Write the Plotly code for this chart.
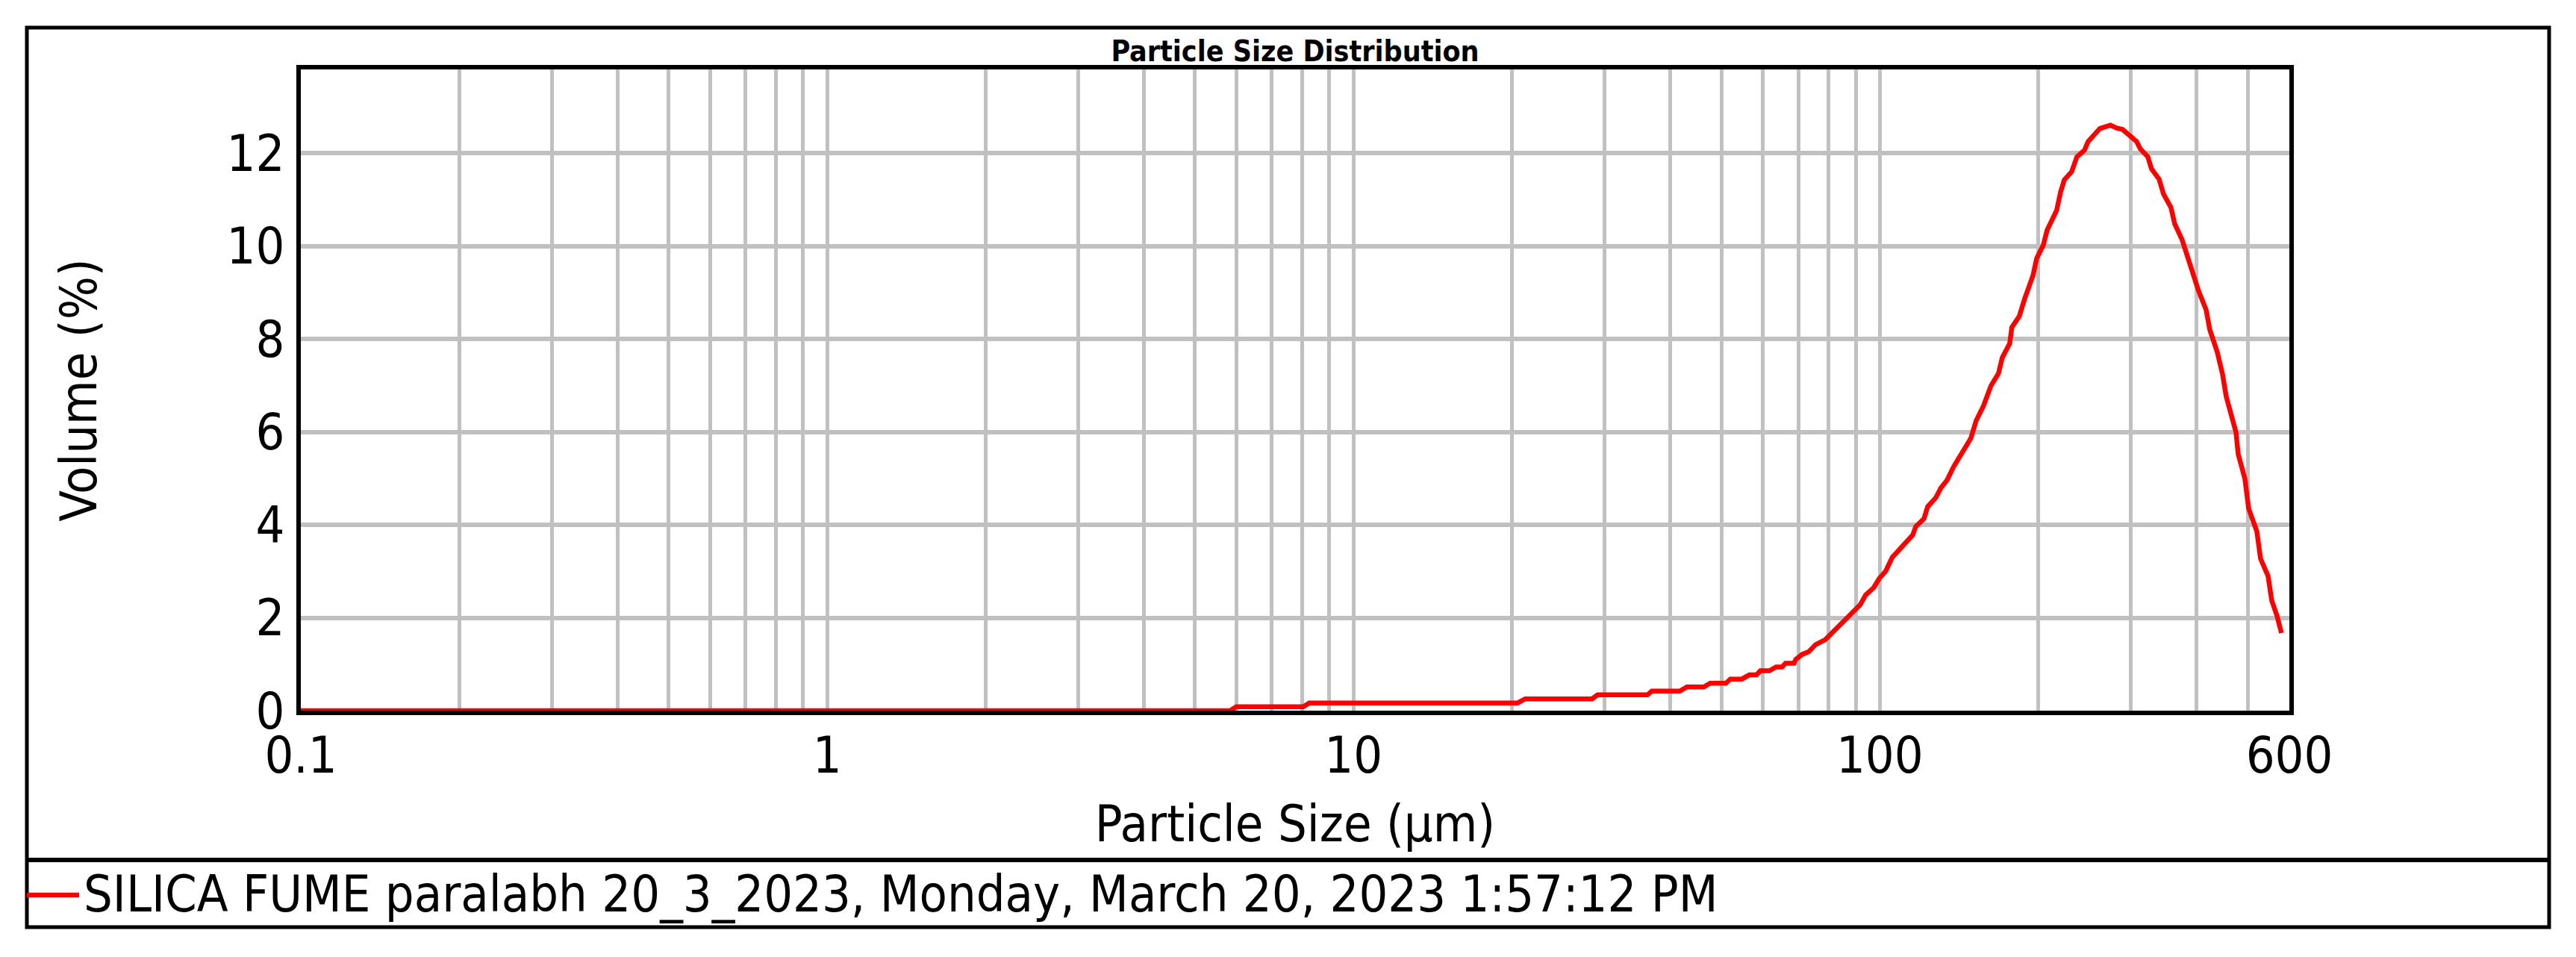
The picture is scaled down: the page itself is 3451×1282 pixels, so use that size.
import plotly.graph_objects as go

# particle size distribution
size_um = [0.1, 5.83, 5.99, 8.03, 8.24, 20.5, 21.2, 28.4, 29.1, 36.2, 36.9, 41.7, 43.0,
           46.3, 47.6, 51.0, 52.0, 54.7, 56.5, 58.3, 59.3, 61.7, 63.5, 65.2, 66.2, 68.7,
           69.2, 71.2, 73.3, 75.5, 78.8, 84.9, 91.8, 94.0, 97.4, 99.7, 102.6, 105.6, 109.5,
           115.5, 117.0, 121.3, 123.3, 127.7, 130.6, 134.2, 138.1, 144.1, 148.9, 152.4,
           157.4, 162.6, 168.1, 170.9, 176.5, 178.2, 184.1, 188.4, 191.5, 195.5, 198.6,
           204.5, 207.9, 213.3, 216.8, 220.4, 224.1, 231.5, 236.9, 244.8, 248.8, 262.0,
           274.3, 281.6, 289.0, 307.5, 312.6, 323.0, 328.3, 339.3, 345.9, 357.4, 363.3,
           375.4, 384.1, 394.5, 403.4, 416.8, 423.6, 437.6, 447.9, 455.2, 467.2, 474.9,
           479.7, 493.9, 502.1, 520.4, 529.0, 546.5, 555.5, 568.4, 579.6]
volume_pct = [0, 0, 0.085, 0.085, 0.165, 0.165, 0.255, 0.255, 0.34, 0.34, 0.42, 0.42, 0.51,
              0.51, 0.59, 0.59, 0.68, 0.68, 0.77, 0.77, 0.86, 0.86, 0.94, 0.94, 1.02, 1.02,
              1.10, 1.21, 1.27, 1.42, 1.53, 1.88, 2.28, 2.49, 2.65, 2.84, 3.00, 3.30, 3.48,
              3.78, 3.96, 4.13, 4.39, 4.58, 4.79, 4.96, 5.25, 5.62, 5.86, 6.24,
              6.56, 6.99, 7.26, 7.60, 7.90, 8.25, 8.49, 8.86, 9.07, 9.37, 9.73,
              10.02, 10.34, 10.61, 10.77, 11.15, 11.42, 11.60, 11.92, 12.06, 12.25, 12.53,
              12.60, 12.54, 12.51, 12.25, 12.09, 11.92, 11.66, 11.44, 11.12, 10.83, 10.48,
              10.13, 9.76, 9.41, 9.03, 8.63, 8.20, 7.72, 7.24, 6.76, 6.27, 6.00,
              5.52, 4.99, 4.35, 3.86, 3.27, 2.90, 2.37, 2.04, 1.67]

x_ticks = [0.1, 1, 10, 100, 600]
x_tick_text = ["0.1", "1", "10", "100", "600"]
x_minor = [0.2, 0.3, 0.4, 0.5, 0.6, 0.7, 0.8, 0.9,
           2, 3, 4, 5, 6, 7, 8, 9,
           20, 30, 40, 50, 60, 70, 80, 90,
           200, 300, 400, 500]
y_ticks = [0, 2, 4, 6, 8, 10, 12]

series_name = "SILICA FUME paralabh 20_3_2023, Monday, March 20, 2023 1:57:12 PM"

FONT = "DejaVu Sans Condensed, DejaVu Sans, sans-serif"
RED = "#FF0000"
GRID = "#C0C0C0"

# page and plot frame in pixels
W, H = 3451, 1282
L, R, T, B = 403, 3067, 93, 952


def px_x(p):
    return (p - L) / (R - L)


def px_y(p):
    return (B - p) / (B - T)


fig = go.Figure()
fig.add_trace(go.Scatter(x=size_um, y=volume_pct, mode="lines",
                         line=dict(color=RED, width=6.5),
                         name=series_name, showlegend=False))

fig.update_xaxes(type="log", range=[-1, 2.77815],
                 tickmode="array", tickvals=x_ticks, ticktext=x_tick_text,
                 showgrid=True, gridcolor=GRID, gridwidth=5,
                 minor=dict(tickmode="array", tickvals=x_minor, showgrid=True,
                            gridcolor=GRID, gridwidth=5, ticks=""),
                 showline=True, linecolor="black", linewidth=6, mirror=True,
                 ticks="", ticklabelstandoff=-5, zeroline=False,
                 tickfont=dict(family=FONT, size=68, color="black"),
                 title=dict(text="Particle Size (µm)", standoff=32,
                            font=dict(family=FONT, size=68, color="black")))
fig.update_yaxes(range=[0, 13.8], tickmode="array", tickvals=y_ticks,
                 showgrid=True, gridcolor=GRID, gridwidth=6,
                 showline=True, linecolor="black", linewidth=6, mirror=True,
                 ticks="", ticklabelstandoff=2, zeroline=False,
                 tickfont=dict(family=FONT, size=68, color="black"),
                 title=dict(text="Volume (%)", standoff=154,
                            font=dict(family=FONT, size=68, color="black")))

# outer frame, legend strip divider and the legend entry
fig.add_shape(type="rect", xref="paper", yref="paper",
              x0=px_x(36), x1=px_x(3415), y0=px_y(1242), y1=px_y(37),
              line=dict(color="black", width=5))
fig.add_shape(type="line", xref="paper", yref="paper",
              x0=px_x(36), x1=px_x(3415), y0=px_y(1152), y1=px_y(1152),
              line=dict(color="black", width=6))
fig.add_shape(type="line", xref="paper", yref="paper",
              x0=px_x(36), x1=px_x(106), y0=px_y(1199), y1=px_y(1199),
              line=dict(color=RED, width=6.5))
fig.add_annotation(text=series_name, xref="paper", yref="paper",
                   x=px_x(110), y=px_y(1197), xanchor="left", yanchor="middle",
                   showarrow=False, font=dict(family=FONT, size=68, color="black"))

fig.update_layout(
    width=W, height=H,
    margin=dict(l=L, r=W - R, t=T, b=H - B),
    paper_bgcolor="white", plot_bgcolor="white",
    showlegend=False,
    title=dict(text="<b>Particle Size Distribution</b>", x=px_x((L + R) / 2),
               xref="paper", xanchor="center", yref="container",
               y=1 - 68 / H, yanchor="middle",
               font=dict(family=FONT, size=39, color="black")),
)

# drop the default page margin so the figure sits at the window's corner
fig.write_html("out.html", config={"displayModeBar": False},
               post_script="document.body.style.margin = '0';")
